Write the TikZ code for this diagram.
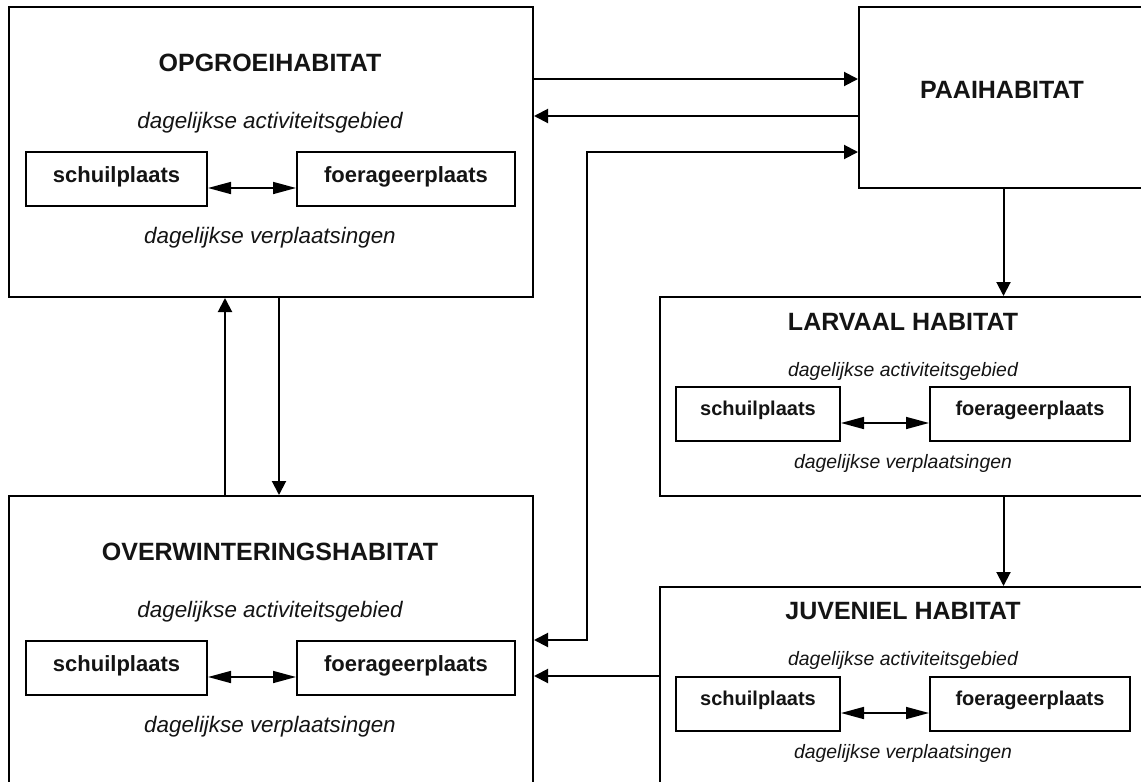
\documentclass[tikz,border=0pt]{standalone}
\usepackage{fontspec}
\setmainfont{Liberation Sans}
\usetikzlibrary{arrows.meta, positioning, calc}
\definecolor{colLine}{RGB}{0,0,0}
\definecolor{colText}{RGB}{20,20,20}
\tikzset{
  habBox/.style={
    rectangle, draw=colLine, line width=1pt,
    anchor=north west, inner sep=0pt
  },
  plekBox/.style={
    rectangle, draw=colLine, line width=1pt,
    inner sep=0pt, minimum height=27pt, text=colText
  },
  plekBig/.style={plekBox, font=\fontsize{11}{13}\selectfont\bfseries, text height=8pt, text depth=5pt},
  plekSmall/.style={plekBox, font=\fontsize{10}{12}\selectfont\bfseries, text height=7.5pt, text depth=6.5pt},
  headTxt/.style={font=\fontsize{12.5}{15}\selectfont\bfseries, text=colText, inner sep=0pt},
  noteBig/.style={font=\fontsize{11.2}{13}\selectfont\itshape, text=colText, inner sep=0pt},
  noteSmall/.style={font=\fontsize{9.7}{12}\selectfont\itshape, text=colText, inner sep=0pt},
  arr/.style={-{Triangle[length=7pt, width=7pt]}, line width=1pt, color=colLine},
  arrBoth/.style={{Triangle[length=7pt, width=7pt]}-{Triangle[length=7pt, width=7pt]}, line width=1pt, color=colLine},
  daily/.style={{Triangle[length=11.5pt, width=6pt]}-{Triangle[length=11.5pt, width=6pt]}, line width=0.8pt, color=colLine}
}

\begin{document}
\begin{tikzpicture}[x=0.5pt, y=-0.5pt]
  \path[use as bounding box, fill=white] (0,0) rectangle (1141,782);
  \clip (0,0) rectangle (1141,782);

  % habitats
  \node[habBox, minimum width=262pt, minimum height=145pt] (opgroei) at (8,6) {};
  \node[habBox, minimum width=144.5pt, minimum height=90.5pt] (paai) at (858,6) {};
  \node[habBox, minimum width=244pt, minimum height=99.5pt] (larvaal) at (659,296) {};
  \node[habBox, minimum width=262pt, minimum height=145pt] (overw) at (8,495) {};
  \node[habBox, minimum width=244pt, minimum height=99.5pt] (juv) at (659,586) {};

  % opgroeihabitat
  \node[headTxt] (opgroeiT) at (270,63) {OPGROEIHABITAT};
  \node[noteBig] (opgroeiA) at (270,123) {dagelijkse activiteitsgebied};
  \node[plekBig, minimum width=90.5pt] (schuilA) at (116.5,179) {schuilplaats};
  \node[plekBig, minimum width=109pt] (foerA) at (406,179) {foerageerplaats};
  \node[noteBig] (opgroeiV) at (270,238) {dagelijkse verplaatsingen};

  % paaihabitat
  \node[headTxt] (paaiT) at (1002,90) {PAAIHABITAT};

  % larvaal habitat
  \node[headTxt] (larvaalT) at (903,322) {LARVAAL HABITAT};
  \node[noteSmall] (larvaalA) at (903,371) {dagelijkse activiteitsgebied};
  \node[plekSmall, minimum width=82pt] (schuilB) at (758,414) {schuilplaats};
  \node[plekSmall, minimum width=100pt] (foerB) at (1030,414) {foerageerplaats};
  \node[noteSmall] (larvaalV) at (903,463) {dagelijkse verplaatsingen};

  % overwinteringshabitat
  \node[headTxt] (overwT) at (270,552) {OVERWINTERINGSHABITAT};
  \node[noteBig] (overwA) at (270,612) {dagelijkse activiteitsgebied};
  \node[plekBig, minimum width=90.5pt] (schuilC) at (116.5,668) {schuilplaats};
  \node[plekBig, minimum width=109pt] (foerC) at (406,668) {foerageerplaats};
  \node[noteBig] (overwV) at (270,727) {dagelijkse verplaatsingen};

  % juveniel habitat
  \node[headTxt] (juvT) at (903,611) {JUVENIEL HABITAT};
  \node[noteSmall] (juvA) at (903,660) {dagelijkse activiteitsgebied};
  \node[plekSmall, minimum width=82pt] (schuilD) at (758,704) {schuilplaats};
  \node[plekSmall, minimum width=100pt] (foerD) at (1030,704) {foerageerplaats};
  \node[noteSmall] (juvV) at (903,753) {dagelijkse verplaatsingen};

  % daily moves
  \draw[daily] ($(schuilA.east)+(0,9)$) -- ($(foerA.west)+(0,9)$);
  \draw[daily] ($(schuilB.east)+(0,9)$) -- ($(foerB.west)+(0,9)$);
  \draw[daily] ($(schuilC.east)+(0,9)$) -- ($(foerC.west)+(0,9)$);
  \draw[daily] ($(schuilD.east)+(0,9)$) -- ($(foerD.west)+(0,9)$);

  % migration between habitats
  \coordinate (bend) at (587,152);
  \draw[arr] ($(opgroei.north east)+(0,73)$) -- ($(paai.north west)+(0,73)$);
  \draw[arr] ($(paai.north west)+(0,110)$) -- ($(opgroei.north east)+(0,110)$);
  \draw[arrBoth] ($(overw.north east)+(0,145)$) -| (bend) -- (bend -| paai.west);
  \draw[arr] ($(juv.north west)+(0,90)$) -- ($(overw.north east)+(0,181)$);
  \draw[arr] (paai.south) -- (paai.south |- larvaal.north);
  \draw[arr] (larvaal.south -| paai.south) -- (juv.north -| paai.south);
  \draw[arr] ($(opgroei.south west)+(271,0)$) -- ($(overw.north west)+(271,0)$);
  \draw[arr] ($(overw.north west)+(217,0)$) -- ($(opgroei.south west)+(217,0)$);

\end{tikzpicture}
\end{document}
